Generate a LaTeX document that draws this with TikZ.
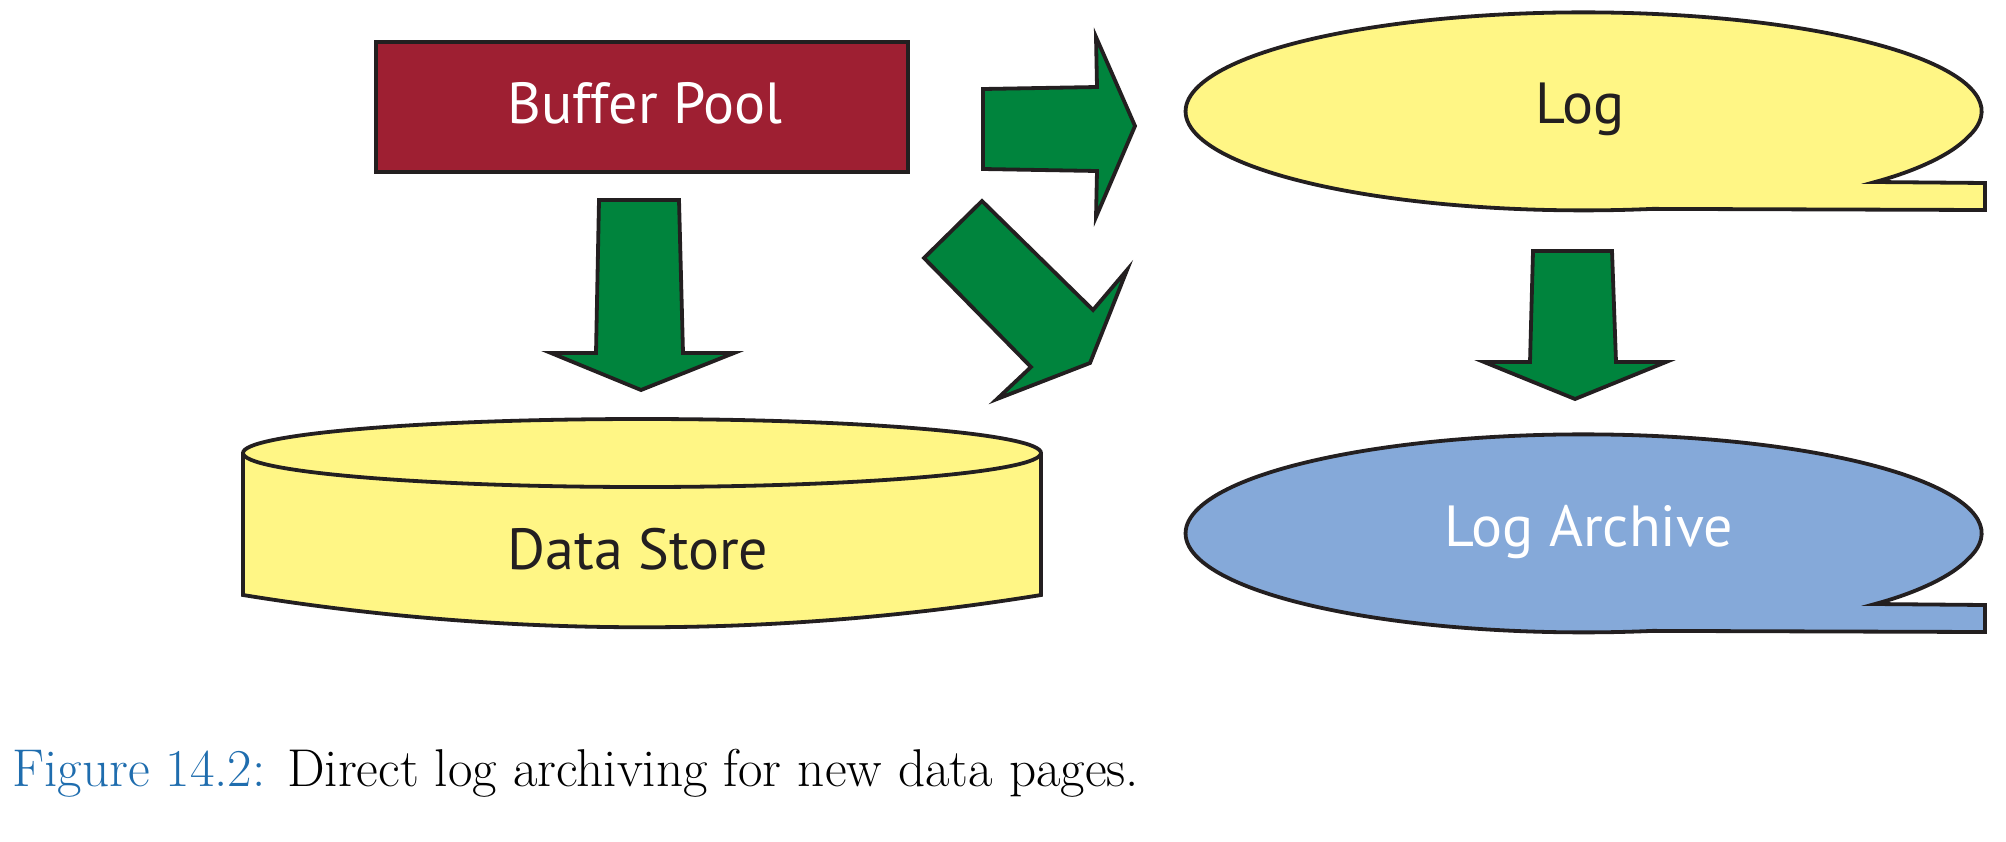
\documentclass[tikz,border=0pt]{standalone}
\usepackage{fontspec}
\newfontfamily\lblfont{PT Sans}
\definecolor{outline}{HTML}{231F20}
\definecolor{bpred}{HTML}{9E1F32}
\definecolor{agreen}{HTML}{00843D}
\definecolor{ayellow}{HTML}{FFF685}
\definecolor{ablue}{HTML}{85A9D9}
\definecolor{capblue}{HTML}{1F6DAE}
\begin{document}
\begin{tikzpicture}[x=0.5pt,y=-0.5pt,line join=miter,
  shapeline/.style={draw=outline,line width=1.9pt},
  blockarrow/.style={shapeline,fill=agreen},
  lbl/.style={font=\lblfont\fontsize{29}{34}\selectfont,inner sep=0pt,anchor=base}]
\useasboundingbox (0,0) rectangle (2006,841);

% Buffer Pool
\draw[shapeline,fill=bpred] (376,42) rectangle (908,172);
\node[lbl,text=white] (bp) at (645,123) {Buffer Pool};

% Data Store cylinder
\draw[shapeline,fill=ayellow] (243,453) -- (243,595)
  .. controls (509,638) and (775,638) .. (1041,595) -- (1041,453);
\draw[shapeline,fill=ayellow] (642,453) ellipse [x radius=399, y radius=34];
\node[lbl,text=outline] (ds) at (638,569) {Data Store};

% Log shape
\draw[shapeline,fill=ayellow] (1968,137)
  arc[start angle=15,end angle=-280,x radius=398,y radius=99]
  -- (1985,210) -- (1985,183) -- (1875,182)
  .. controls (1912,172) and (1950,156) .. cycle;
\node[lbl,text=outline] (log) at (1580,123) {Log};

% Log Archive shape
\draw[shapeline,fill=ablue] (1968,559)
  arc[start angle=15,end angle=-280,x radius=398,y radius=99]
  -- (1985,632) -- (1985,605) -- (1875,604)
  .. controls (1912,594) and (1950,578) .. cycle;
\node[lbl,text=white] (la) at (1589,546) {Log Archive};

% Block arrows
\draw[blockarrow] (599,200) -- (679,200) -- (683,353) -- (734,353) -- (641,390)
  -- (551,353) -- (596,353) -- cycle;
\draw[blockarrow] (983,89) -- (1097,87) -- (1096,37) -- (1135,126) -- (1096,217)
  -- (1097,171) -- (983,169) -- cycle;
\draw[blockarrow] (982,201) -- (1093,310) -- (1127,270) -- (1090,363) -- (997,399)
  -- (1031,367) -- (924,258) -- cycle;
\draw[blockarrow] (1533,251) -- (1612,251) -- (1616,362) -- (1666,362) -- (1575,399)
  -- (1484,362) -- (1530,362) -- cycle;

% Caption
\node[inner sep=0pt,anchor=base west,font=\fontsize{26.6}{31}\selectfont] (cap) at (12,786)
  {\textcolor{capblue}{Figure 14.2:} Direct log archiving for new data pages.};
\end{tikzpicture}
\end{document}
